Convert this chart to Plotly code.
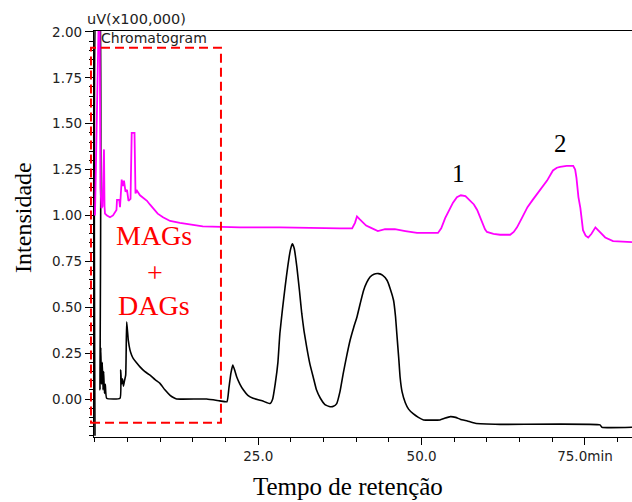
import plotly.graph_objects as go

# ---- data (retention time in min, intensity in uV x100,000) ----
time_upper = [0.0, 0.54, 0.69, 0.84, 0.99, 1.15, 1.30, 1.38, 1.46, 1.53, 1.84, 2.30, 2.76, 3.29, 3.37,
              3.72, 3.83, 4.09, 4.29, 4.44, 4.67, 4.90, 5.13, 5.44, 5.62, 6.05, 6.20, 6.43, 6.89,
              7.4, 7.96, 8.4, 8.88, 9.6, 10.41, 11.5, 13.0, 14.5, 16.5, 22.2, 28.3, 37.5, 39.36,
              39.8, 40.1, 40.5, 40.9, 41.5, 42.1, 42.7, 43.3,
              44.4, 45.9, 47.5, 49.3, 52.5, 53.0, 53.6, 54.2, 54.8, 55.4, 56.0, 56.7, 57.4, 58.0,
              58.5, 59.0, 59.3, 59.7, 60.0, 61.0, 62.0, 63.55, 64.1, 64.6, 65.4, 66.2, 67.0, 67.7,
              68.5, 69.2, 70.1, 70.7, 71.2, 72.2, 73.2, 73.5, 73.7, 73.85, 74.0, 74.3, 74.7,
              75.1, 75.5, 76.0, 76.6, 77.0, 77.3, 78.1, 79.3, 82.2]
intensity_upper = [1.00, 2.30, 2.30, 1.15, 1.04, 1.05, 1.36, 1.36, 1.05, 1.01, 1.00, 0.99, 1.00, 1.03, 1.085,
                   1.085, 1.045, 1.195, 1.16, 1.19, 1.13, 1.14, 1.08, 1.09, 1.45, 1.45, 1.12, 1.135, 1.11,
                   1.095, 1.08, 1.06, 1.04, 1.01, 0.99, 0.97, 0.96, 0.95, 0.94, 0.935, 0.935, 0.93, 0.93,
                   0.96, 0.995, 0.98, 0.965, 0.945, 0.935, 0.925, 0.915,
                   0.925, 0.925, 0.915, 0.905, 0.905, 0.93, 0.985, 1.03, 1.07, 1.10, 1.11, 1.105, 1.08, 1.06,
                   1.03, 0.985, 0.955, 0.925, 0.91, 0.90, 0.895, 0.895, 0.91, 0.935, 0.99, 1.045, 1.085, 1.12,
                   1.16, 1.19, 1.245, 1.26, 1.265, 1.27, 1.27, 1.25, 1.205, 1.15, 1.10, 1.04, 0.92,
                   0.89, 0.88, 0.90, 0.935, 0.92, 0.91, 0.88, 0.86, 0.855]

time_lower = [0.0, 0.30, 0.62, 0.77, 0.89, 0.99, 1.12, 1.23, 1.33, 1.45, 1.58, 1.79, 3.83, 3.94, 4.06,
              4.21, 4.36, 4.52, 4.70, 4.85, 5.10, 5.36, 5.6, 5.87, 6.3, 6.89, 7.6, 8.42, 9.2, 9.95,
              10.7, 11.5, 12.0, 12.5, 17.1, 19.1, 20.2, 20.5, 20.8, 21.1, 21.4, 21.7, 22.2, 22.7,
              23.4, 24.2, 25.6, 26.8, 27.2, 27.6, 28.0, 28.3, 28.7, 29.1, 29.5, 29.9, 30.2, 30.5,
              30.9, 31.3, 31.65, 32.0, 32.4, 32.9, 33.4, 33.9, 34.5, 35.2, 36.0, 36.5, 37.0, 37.5,
              38.0, 38.5, 39.05, 39.6, 40.1, 40.6, 41.1, 41.6, 42.1, 42.7, 43.4, 44.0, 44.7, 45.2,
              45.7, 46.0, 46.2, 46.5, 46.7, 47.0, 47.5, 48.0, 48.7, 49.5, 50.3, 52.8, 53.5, 54.4,
              55.2, 55.9, 57.0, 58.2, 62.0, 77.3, 77.6, 82.2]
intensity_lower = [-0.20, 2.30, 2.30, 0.05, 0.28, 0.08, 0.20, 0.05, 0.15, 0.03, 0.08, 0.004, 0.004, 0.158, 0.08,
                   0.11, 0.07, 0.10, 0.13, 0.42, 0.32, 0.266, 0.24, 0.22, 0.20, 0.175, 0.15, 0.13, 0.105, 0.085,
                   0.05, 0.02, 0.008, 0.0, 0.0, -0.01, -0.015, 0.06, 0.14, 0.185, 0.155, 0.12, 0.08, 0.05,
                   0.02, 0.004, -0.01, -0.025, 0.0, 0.085, 0.20, 0.357, 0.49, 0.61, 0.72, 0.81, 0.846, 0.82,
                   0.72, 0.59, 0.466, 0.37, 0.284, 0.19, 0.12, 0.05, 0.004, -0.03, -0.042, -0.04, -0.025, 0.04,
                   0.14, 0.23, 0.32, 0.39, 0.447, 0.52, 0.59, 0.635, 0.665, 0.68, 0.683, 0.675, 0.647, 0.60,
                   0.538, 0.45, 0.357, 0.22, 0.12, 0.04, -0.02, -0.055, -0.08, -0.10, -0.114, -0.114, -0.105, -0.096,
                   -0.10, -0.11, -0.12, -0.132, -0.138, -0.141, -0.154, -0.154]

x_tick_vals = [25, 50, 75]
x_tick_text = ["25.0", "50.0", "75.0min"]
y_tick_vals = [0.0, 0.25, 0.5, 0.75, 1.0, 1.25, 1.5, 1.75, 2.0]
y_tick_text = ["0.00", "0.25", "0.50", "0.75", "1.00", "1.25", "1.50", "1.75", "2.00"]

fig = go.Figure()
fig.add_trace(go.Scatter(x=time_lower, y=intensity_lower, mode="lines",
                         line=dict(color="#000000", width=1.6, shape="spline", smoothing=0.4),
                         showlegend=False, hoverinfo="skip"))
fig.add_trace(go.Scatter(x=time_upper, y=intensity_upper, mode="lines",
                         line=dict(color="#FF00FF", width=1.8), showlegend=False, hoverinfo="skip"))

tick_font = dict(family="DejaVu Sans", size=13.5, color="#222222")
serif = "Liberation Serif"

fig.update_layout(
    width=632, height=502,
    margin=dict(l=94, r=0, t=31, b=65),
    paper_bgcolor="white", plot_bgcolor="white",
    showlegend=False,
    xaxis=dict(range=[-0.15, 82.2], showgrid=False, zeroline=False,
               showline=True, linecolor="black", linewidth=1.3, mirror=True,
               ticks="outside", ticklen=7, tickcolor="black", tickwidth=1.3,
               tickvals=x_tick_vals, ticktext=x_tick_text, tickfont=tick_font,
               minor=dict(ticks="outside", ticklen=4, tickcolor="black", tickwidth=1.3,
                          tick0=0, dtick=5, showgrid=False)),
    yaxis=dict(range=[-0.207, 2.005], showgrid=False, zeroline=False,
               showline=True, linecolor="black", linewidth=1.3,
               ticks="outside", ticklen=8, tickcolor="black", tickwidth=1.3,
               tickvals=y_tick_vals, ticktext=y_tick_text, tickfont=tick_font,
               minor=dict(ticks="outside", ticklen=4, tickcolor="black", tickwidth=1.3,
                          tick0=0, dtick=0.05, showgrid=False)),
)

# red dashed box around MAGs + DAGs region
fig.add_shape(type="rect", xref="paper", yref="paper",
              x0=-0.0056, x1=0.236, y0=0.0352, y1=0.959,
              line=dict(color="#FF0000", width=2, dash="9px,5px"), fillcolor="rgba(0,0,0,0)")

ann = [
    dict(text="MAGs", x=0.1115, y=0.4975, font=dict(family=serif, size=28, color="#FF0000")),
    dict(text="+", x=0.113, y=0.406, font=dict(family=serif, size=28, color="#FF0000")),
    dict(text="DAGs", x=0.1115, y=0.325, font=dict(family=serif, size=28, color="#FF0000")),
    dict(text="1", x=0.6775, y=0.648, font=dict(family=serif, size=25, color="#000000")),
    dict(text="2", x=0.868, y=0.723, font=dict(family=serif, size=25, color="#000000")),
]
for a in ann:
    fig.add_annotation(xref="paper", yref="paper", showarrow=False,
                       xanchor="center", yanchor="middle", **a)

fig.add_annotation(xref="paper", yref="paper", x=0.0093, y=0.983, text="Chromatogram",
                   showarrow=False, xanchor="left", yanchor="middle",
                   font=dict(family="DejaVu Sans", size=14, color="#222222"))
fig.add_annotation(xref="paper", yref="paper", x=-0.0167, y=1.03, text="uV(x100,000)",
                   showarrow=False, xanchor="left", yanchor="middle",
                   font=dict(family="DejaVu Sans", size=14.5, color="#222222"))
fig.add_annotation(xref="paper", yref="paper", x=-0.132, y=0.542, text="Intensidade",
                   showarrow=False, textangle=-90, xanchor="center", yanchor="middle",
                   font=dict(family=serif, size=24, color="#000000"))
fig.add_annotation(xref="paper", yref="paper", x=0.472, y=-0.1207, text="Tempo de retenção",
                   showarrow=False, xanchor="center", yanchor="middle",
                   font=dict(family=serif, size=25, color="#000000"))

fig.write_html("out.html")
